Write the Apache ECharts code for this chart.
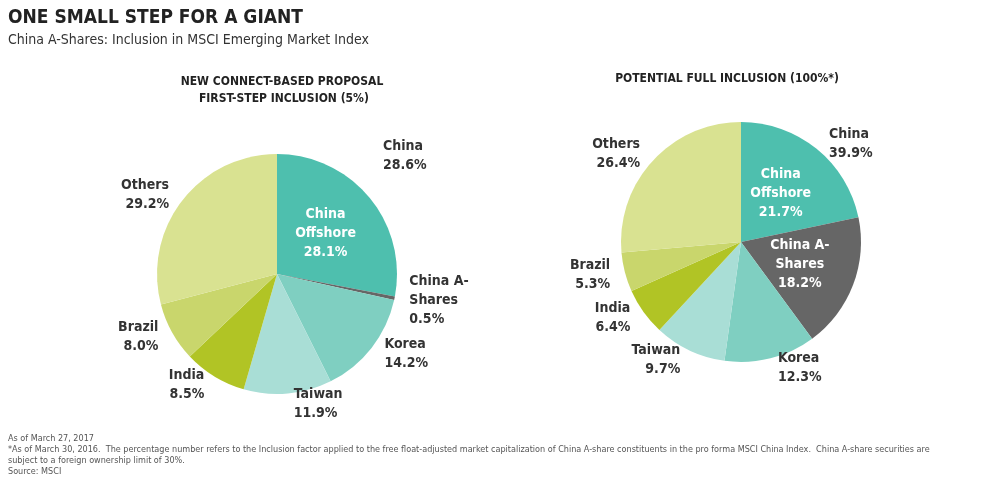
<!DOCTYPE html>
<html><head><meta charset="utf-8">
<script src="https://cdn.jsdelivr.net/npm/echarts@6/dist/echarts.min.js"></script>
<style>body{margin:0;background:#fff}#c{width:990px;height:478px}</style></head>
<body><div id="c"></div>
<script>
const names=["China\nOffshore","China A-\nShares","Korea","Taiwan","India","Brazil","Others"];
const leftVals=[28.1,0.5,14.2,11.9,8.5,8.0,29.2];
const rightVals=[21.7,18.2,12.3,9.7,6.4,5.3,26.4];
const colors=["#4ebfae","#666666","#7fcfc1","#a9ded6","#b1c425","#c9d66c","#d9e291"];
const leftChina=28.6, rightChina=39.9;
const chart=echarts.init(document.getElementById('c'));
const F='"Liberation Sans Narrow","DejaVu Sans Condensed",sans-serif';
function mk(vals,center,white){
  return {type:'pie',radius:120,center:center,startAngle:90,clockwise:true,
    label:{show:true,position:'outside',distance:4,fontFamily:F,fontWeight:'bold',fontSize:14,color:'#333',lineHeight:19,
      formatter:p=>p.name+'\n'+p.value.toFixed(1)+'%'},
    labelLine:{show:false,length:10,length2:0},
    data:vals.map((v,i)=>{const d={name:names[i],value:v,itemStyle:{color:colors[i]}};
      if(i===0||(white&&i===1)) d.label={position:'inside',color:'#fff',fontSize:14,align:'center'};
      return d;}),
    itemStyle:{borderColor:'#fff',borderWidth:0},emphasis:{disabled:true},silent:true};
}
chart.setOption({
  animation:false,
  title:[{text:'ONE SMALL STEP FOR A GIANT',left:3,top:4,textStyle:{fontFamily:F,fontWeight:'bold',fontSize:19,color:'#222'}},
    {text:'China A-Shares: Inclusion in MSCI Emerging Market Index',left:3,top:28,textStyle:{fontFamily:F,fontWeight:'normal',fontSize:14,color:'#333'}},
    {text:'NEW CONNECT-BASED PROPOSAL\n FIRST-STEP INCLUSION (5%)',left:277,top:68,textAlign:'center',textStyle:{fontFamily:F,fontWeight:'bold',fontSize:12,color:'#222',lineHeight:17}},
    {text:'POTENTIAL FULL INCLUSION (100%*)',left:722,top:68,textAlign:'center',textStyle:{fontFamily:F,fontWeight:'bold',fontSize:12,color:'#222'}},
    {text:'China\n'+leftChina.toFixed(1)+'%',left:378,top:132,textStyle:{fontFamily:F,fontWeight:'bold',fontSize:14,color:'#333',lineHeight:19}},
    {text:'China\n'+rightChina.toFixed(1)+'%',left:824,top:120,textStyle:{fontFamily:F,fontWeight:'bold',fontSize:14,color:'#333',lineHeight:19}},
    {text:'As of March 27, 2017\n*As of March 30, 2016.  The percentage number refers to the Inclusion factor applied to the free float-adjusted market capitalization of China A-share constituents in the pro forma MSCI China Index.  China A-share securities are\nsubject to a foreign ownership limit of 30%.\nSource: MSCI',left:3,top:428,textStyle:{fontFamily:F,fontWeight:'normal',fontSize:9,color:'#555',lineHeight:11}}
  ],
  series:[mk(leftVals,[277,274],false),mk(rightVals,[741,242],true)]
});
</script></body></html>
